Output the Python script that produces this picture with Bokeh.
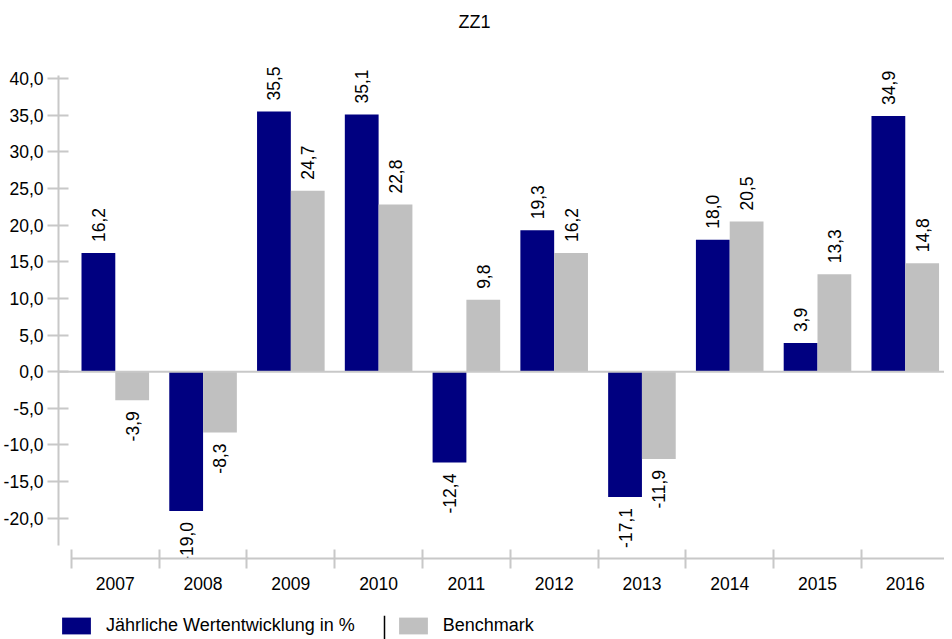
from bokeh.plotting import figure
from bokeh.layouts import column
from bokeh.models import (ColumnDataSource, Range1d, FixedTicker, CustomJSTickFormatter,
                          Span, Legend, LegendItem, Label)
from bokeh.core.properties import value
from bokeh.embed import file_html
from bokeh.resources import INLINE
import math

title_text = "ZZ1"
years = ["2007", "2008", "2009", "2010", "2011", "2012", "2013", "2014", "2015", "2016"]
fund = [16.2, -19.0, 35.5, 35.1, -12.4, 19.3, -17.1, 18.0, 3.9, 34.9]
bench = [-3.9, -8.3, 24.7, 22.8, 9.8, 16.2, -11.9, 20.5, 13.3, 14.8]
y_ticks = [-20, -15, -10, -5, 0, 5, 10, 15, 20, 25, 30, 35, 40]
series_names = ["Jährliche Wertentwicklung in %", "Benchmark"]

FONT = "Liberation Sans"
FS = "17.5px"
NAVY = "#000080"
GREY = "#c0c0c0"
AXIS = "#c8c8c8"

BW = 0.385
PAD = 0.115

idx = list(range(len(years)))
fx = [i + PAD + BW / 2 for i in idx]
bx = [i + PAD + BW * 1.5 for i in idx]

def fmt(v):
    return ("%.1f" % v).replace(".", ",")

def lab_source(xs, vals):
    return ColumnDataSource(dict(
        x=xs, y=vals, text=[fmt(v) for v in vals],
        align=["left" if v >= 0 else "right" for v in vals],
        yoff=[-11 if v >= 0 else 11 for v in vals],
    ))

p = figure(width=944, frame_height=558, output_backend="svg", toolbar_location=None,
           x_range=Range1d(-0.147, 9.947), y_range=Range1d(-25.49, 50.65),
           min_border_left=0, min_border_right=0, min_border_top=0, min_border_bottom=57)
p.outline_line_color = None
p.grid.visible = False

title = Label(x=416, y=537, x_units="screen", y_units="screen", text=title_text,
              text_align="center", text_baseline="middle", text_font=FONT,
              text_font_size="18px", text_color="#000000")
p.add_layout(title)

zero = Span(location=0, dimension="width", line_color=AXIS, line_width=2)
p.add_layout(zero)

src_f = ColumnDataSource(dict(x=fx, top=fund))
src_b = ColumnDataSource(dict(x=bx, top=bench))
p.vbar(x="x", top="top", bottom=0, width=BW, source=src_f, fill_color=NAVY, line_color=None)
p.vbar(x="x", top="top", bottom=0, width=BW, source=src_b, fill_color=GREY, line_color=None)

for xs, vals in ((fx, fund), (bx, bench)):
    p.text(x="x", y="y", text="text", source=lab_source(xs, vals), angle=math.pi / 2,
           text_align="align", y_offset="yoff", text_baseline="middle",
           text_font=value(FONT), text_font_size=FS, text_color="#000000")

# y axis
ya = p.yaxis[0]
ya.ticker = FixedTicker(ticks=y_ticks)
ya.formatter = CustomJSTickFormatter(code="return tick.toFixed(1).replace('.', ',');")
ya.bounds = (-23.75, 40.4)
ya.axis_line_color = AXIS
ya.axis_line_width = 2
ya.major_tick_line_color = AXIS
ya.major_tick_line_width = 2
ya.major_tick_in = 10
ya.major_tick_out = 11
ya.minor_tick_line_color = None
ya.major_label_standoff = 4
ya.major_label_text_font = FONT
ya.major_label_text_font_size = FS
ya.major_label_text_color = "#000000"

# x axis
xa = p.xaxis[0]
xa.ticker = FixedTicker(ticks=[i + 0.5 for i in idx], minor_ticks=list(range(len(years) + 1)))
xa.major_label_overrides = {i + 0.5: y for i, y in zip(idx, years)}
xa.bounds = (0, len(years))
xa.axis_line_color = AXIS
xa.axis_line_width = 2
xa.major_tick_line_color = None
xa.minor_tick_line_color = AXIS
xa.minor_tick_line_width = 2
xa.minor_tick_in = 9
xa.minor_tick_out = 10
xa.major_tick_out = 10
xa.major_tick_in = 0
xa.major_label_standoff = 8
xa.major_label_text_font = FONT
xa.major_label_text_font_size = FS
xa.major_label_text_color = "#000000"

# legend strip (its renderers use the same sources, kept outside its visible range)
lg = figure(width=944, height=24, output_backend="svg", toolbar_location=None,
            x_range=Range1d(-3, -2), y_range=Range1d(-3, -2),
            min_border_left=50, min_border_right=0, min_border_top=0, min_border_bottom=0)
lg.axis.visible = False
lg.grid.visible = False
lg.outline_line_color = None
e1 = lg.vbar(x="x", top="top", bottom=0, width=BW, source=src_f, fill_color=NAVY, line_color=None)
e2 = lg.vbar(x="x", top="top", bottom=0, width=BW, source=src_b, fill_color=GREY, line_color=None)
legend = Legend(items=[LegendItem(label=series_names[0], renderers=[e1]),
                       LegendItem(label=series_names[1], renderers=[e2])],
                orientation="horizontal", location="top_left",
                glyph_width=36, glyph_height=21, label_standoff=12, spacing=40,
                padding=0, margin=0, border_line_color=None, background_fill_alpha=0,
                label_text_font=FONT, label_text_font_size="18px", label_text_color="#000000")
lg.add_layout(legend, "center")
sep = Span(location=326, location_units="screen", dimension="height",
           line_color="#000000", line_width=1.5)
lg.add_layout(sep)

open("out.html", "w").write(file_html(column(p, lg), INLINE))
